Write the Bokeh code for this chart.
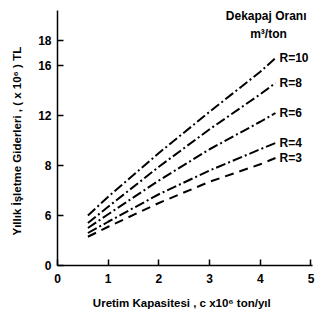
from bokeh.plotting import figure
from bokeh.models import ColumnDataSource, FixedTicker
from bokeh.core.properties import value
from bokeh.embed import file_html
from bokeh.resources import INLINE

x = [0.6, 1.0, 2.0, 3.0, 4.0, 4.3]
r10 = [4.0, 5.5, 9.0, 12.3, 15.5, 16.6]
r8 = [3.4, 4.7, 7.9, 10.9, 13.7, 14.6]
r6 = [3.0, 4.1, 6.8, 9.3, 11.5, 12.2]
r4 = [2.6, 3.5, 5.7, 7.6, 9.3, 9.8]
r3 = [2.3, 3.1, 5.0, 6.7, 8.1, 8.6]
series_names = ["R=10", "R=8", "R=6", "R=4", "R=3"]
x_ticks = [0, 1, 2, 3, 4, 5]
y_ticks = [0, 4, 8, 12, 16, 18]
y_tick_labels = ["0", "6", "8", "12", "16", "18"]
legend_title = ["Dekapaj Oranı", "m³/ton"]

FONT = "Liberation Sans"

p = figure(width=315, height=318, output_backend="svg", toolbar_location=None,
           x_range=(0, 5.03), y_range=(0, 20.4),
           min_border_left=57, min_border_right=3, min_border_top=10, min_border_bottom=53)
p.outline_line_color = None
p.grid.visible = False
p.background_fill_color = "white"

series = [r10, r8, r6, r4, r3]
dashes = ["10 3 2 3", "10 3 2 3", "10 3 2 3", "10 3 2 3", "9 6"]
for ys, d in zip(series, dashes):
    p.line(x, ys, line_color="black", line_width=2, line_dash=d)

ends = ColumnDataSource(dict(x=[x[-1]] * 5, y=[s[-1] for s in series], t=series_names))
p.text(x="x", y="y", text="t", source=ends, x_offset=4, text_baseline="middle",
       text_font=value(FONT), text_font_size="12px", text_font_style="bold", text_color="black")

titles = ColumnDataSource(dict(x=[3.32, 3.8], y=[19.95, 18.5], t=legend_title))
p.text(x="x", y="y", text="t", source=titles, text_baseline="middle",
       text_font=value(FONT), text_font_size="12px", text_font_style="bold", text_color="black")

p.xaxis.ticker = FixedTicker(ticks=x_ticks)
p.yaxis.ticker = FixedTicker(ticks=y_ticks)
p.yaxis.major_label_overrides = {t: l for t, l in zip(y_ticks, y_tick_labels)}
for ax in (p.xaxis, p.yaxis):
    ax.major_tick_in = 6
    ax.major_tick_out = 0
    ax.minor_tick_in = 0
    ax.minor_tick_out = 0
    ax.axis_line_width = 1.5
    ax.major_tick_line_width = 1.5
    ax.major_label_text_font = FONT
    ax.major_label_text_font_size = "12px"
    ax.major_label_text_font_style = "bold"
    ax.major_label_text_color = "black"
    ax.axis_label_text_font = FONT
    ax.axis_label_text_font_size = "11.5px"
    ax.axis_label_text_font_style = "bold"
    ax.axis_label_text_color = "black"
p.xaxis.axis_label = "Uretim   Kapasitesi , c x10⁶ ton/yıl"
p.yaxis.axis_label = "Yıllık  İşletme  Giderleri , ( x 10⁶ ) TL"
p.xaxis.major_label_standoff = 8
p.yaxis.major_label_standoff = 6
p.xaxis.axis_label_standoff = 11
p.yaxis.axis_label_standoff = 12

open("out.html", "w").write(file_html(p, INLINE))
